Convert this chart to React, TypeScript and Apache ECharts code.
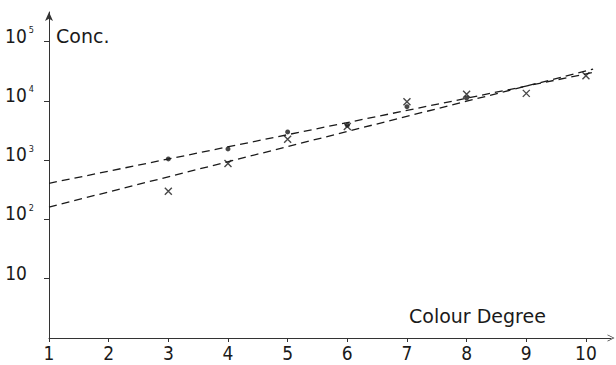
import React, { useEffect, useRef } from "react";
import * as echarts from "echarts";

// Colour degree categories and concentrations
const dotX = [3, 4, 5, 6, 7, 8];
const dotY = [1050, 1550, 3000, 3900, 8000, 11200];
const crossX = [3, 4, 5, 6, 7, 8, 9, 10];
const crossY = [300, 880, 2250, 3700, 9700, 12900, 13400, 26600];
// fitted dashed lines (end points)
const lineAX = [1, 10.12];
const lineAY = [407, 30200];
const lineBX = [1, 10.12];
const lineBY = [162, 34300];
// ticks
const xTicks = [1, 2, 3, 4, 5, 6, 7, 8, 9, 10];
const yTicks = [10, 100, 1000, 10000, 100000];

const NUM_FONT = "'Liberation Sans Narrow', 'DejaVu Sans Condensed', 'Liberation Sans', sans-serif";
const TXT_FONT = "'DejaVu Sans', sans-serif";
const INK = "#1a1a1a";

export default function App() {
  const ref = useRef<HTMLDivElement>(null);
  useEffect(() => {
    if (!ref.current) return;
    const chart = echarts.init(ref.current, undefined, { renderer: "svg" });
    const pair = (xs: number[], ys: number[]) => xs.map((x, i) => [x, ys[i]]);
    chart.setOption({
      animation: false,
      backgroundColor: "#ffffff",
      grid: { left: 49, right: 5, top: 12, bottom: 27, containLabel: false },
      xAxis: {
        type: "value",
        min: 1,
        max: 10.42,
        interval: 1,
        splitLine: { show: false },
        axisLine: {
          show: true,
          lineStyle: { color: "#333", width: 1 },
          symbol: ["none", "path://M5,0 L10,10 L9,10 L5,2 L1,10 L0,10 Z"],
          symbolSize: [7, 7],
        },
        axisTick: { show: true, length: 4, lineStyle: { color: "#333" }, customValues: xTicks },
        axisLabel: {
          customValues: xTicks,
          margin: 5,
          color: INK,
          fontSize: 19,
          fontFamily: NUM_FONT,
          formatter: (v: number) => String(v),
        },
      },
      yAxis: {
        type: "log",
        logBase: 10,
        min: 1,
        max: 316228,
        splitLine: { show: false },
        axisLine: {
          show: true,
          lineStyle: { color: "#333", width: 1 },
          symbol: ["none", "arrow"],
          symbolSize: [6, 9],
        },
        axisTick: { show: true, length: 5, lineStyle: { color: "#333" }, customValues: yTicks },
        axisLabel: {
          customValues: yTicks,
          margin: 15,
          color: INK,
          padding: [0, 0, 12, 0],
          formatter: (v: number) => {
            const e = Math.round(Math.log10(v));
            return e === 1 ? "{c|10}" : `{b|10}{s|${e}}`;
          },
          rich: {
            b: { fontSize: 19, fontFamily: NUM_FONT, color: INK, lineHeight: 20 },
            c: { fontSize: 19, fontFamily: NUM_FONT, color: INK, lineHeight: 20, padding: [0, 7, 0, 0] },
            s: { fontSize: 9, fontFamily: NUM_FONT, color: INK, verticalAlign: "top", lineHeight: 20, padding: [0, 0, 0, 2] },
          },
        },
      },
      graphic: [
        { type: "text", left: 56, top: 26, style: { text: "Conc.", font: `19px ${TXT_FONT}`, fill: INK } },
        { type: "text", left: 409, top: 306, style: { text: "Colour Degree", font: `19px ${TXT_FONT}`, fill: INK } },
      ],
      series: [
        {
          type: "line",
          data: pair(lineAX, lineAY),
          symbol: "none",
          silent: true,
          lineStyle: { color: INK, width: 1.3, type: [8, 5] },
        },
        {
          type: "line",
          data: pair(lineBX, lineBY),
          symbol: "none",
          silent: true,
          lineStyle: { color: INK, width: 1.3, type: [8, 5] },
        },
        {
          type: "scatter",
          data: pair(dotX, dotY),
          symbol: "circle",
          symbolSize: 5,
          itemStyle: { color: INK },
        },
        {
          type: "scatter",
          data: pair(crossX, crossY),
          symbol: "path://M0,0L10,10M10,0L0,10",
          symbolSize: 7,
          itemStyle: { color: "transparent", borderColor: INK, borderWidth: 1.4 },
        },
      ],
    });
    return () => chart.dispose();
  }, []);
  return (
    <div
      ref={ref}
      style={{ position: "fixed", left: 0, top: 0, width: 616, height: 365, background: "#fff" }}
    />
  );
}
